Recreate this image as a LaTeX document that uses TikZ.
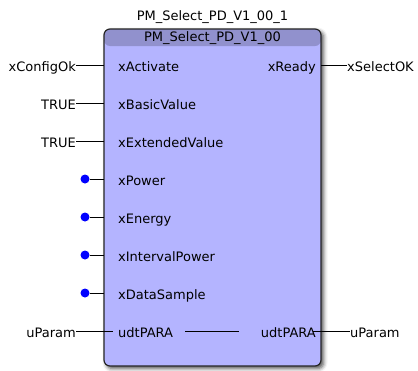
\documentclass[tikz,border=0pt]{standalone}
\usepackage{fontspec}
\setmainfont{DejaVu Sans}
\usetikzlibrary{shadows.blur}
\definecolor{fbbody}{RGB}{180,180,255}
\definecolor{fbhead}{RGB}{145,145,205}
\definecolor{pindot}{RGB}{0,0,255}

\begin{document}
\begin{tikzpicture}[x=1pt,y=-1pt,
    lbl/.style={inner sep=0pt, font=\fontsize{13}{15}\selectfont},
    wire/.style={line width=0.8pt},
    fbox/.style={draw=black!85, line width=1.2pt, rounded corners=6pt, fill=fbbody,
      minimum width=217pt, minimum height=337pt, inner sep=0pt,
      blur shadow={shadow xshift=2.5pt, shadow yshift=-2.5pt, shadow blur radius=4pt, shadow opacity=70},
      path picture={\fill[fbhead] (path picture bounding box.north west) rectangle ([yshift=-17pt]path picture bounding box.north east);}}]
    \useasboundingbox (0,0) rectangle (418,370);
    % function block with instance and type name
    \node[fbox] (blk) at (212.5,197.5) {};
    \node[lbl, anchor=base] (inst) at (212.5,20) {PM\_Select\_PD\_V1\_00\_1};
    \node[lbl, anchor=base] (type) at (212.5,41.7) {PM\_Select\_PD\_V1\_00};
    % wired inputs
    \foreach \i/\pin/\src in {1/xActivate/xConfigOk, 2/xBasicValue/TRUE, 3/xExtendedValue/TRUE}{
        \coordinate (in\i) at (104,27+38*\i);
        \node[lbl, anchor=base west] (pin\i) at (118,33.7+38*\i) {\pin};
        \node[lbl, anchor=base east] (src\i) at (76,33.7+38*\i) {\src};
        \draw[wire] (in\i -| src\i.east) -- (in\i);
    }
    % open inputs
    \foreach \i/\pin in {4/xPower, 5/xEnergy, 6/xIntervalPower, 7/xDataSample}{
        \coordinate (in\i) at (104,27+38*\i);
        \node[lbl, anchor=base west] (pin\i) at (118,33.7+38*\i) {\pin};
        \node[circle, fill=pindot, inner sep=0pt, minimum size=9pt] (dot\i) at (85,27+38*\i) {};
        \draw[wire] (dot\i) -- (in\i);
    }
    % in/out parameter
    \coordinate (in8) at (113,331);
    \node[lbl, anchor=base west] (pin8) at (118,337.7) {udtPARA};
    \node[lbl, anchor=base east] (src8) at (76,337.7) {uParam};
    \draw[wire] (in8 -| src8.east) -- (in8);
    \node[lbl, anchor=base east] (out2) at (316,337.7) {udtPARA};
    \node[lbl, anchor=base west] (dst2) at (350,337.7) {uParam};
    \coordinate (q2) at (313,331);
    \draw[wire] (q2) -- (q2 -| dst2.west);
    \draw[wire] ([xshift=12pt]pin8.east |- in8) -- ([xshift=-22pt]out2.west |- in8);
    % output
    \node[lbl, anchor=base east] (out1) at (316,71.7) {xReady};
    \node[lbl, anchor=base west] (dst1) at (347,71.7) {xSelectOK};
    \coordinate (q1) at (321,65);
    \draw[wire] (q1) -- (q1 -| dst1.west);
\end{tikzpicture}
\end{document}
